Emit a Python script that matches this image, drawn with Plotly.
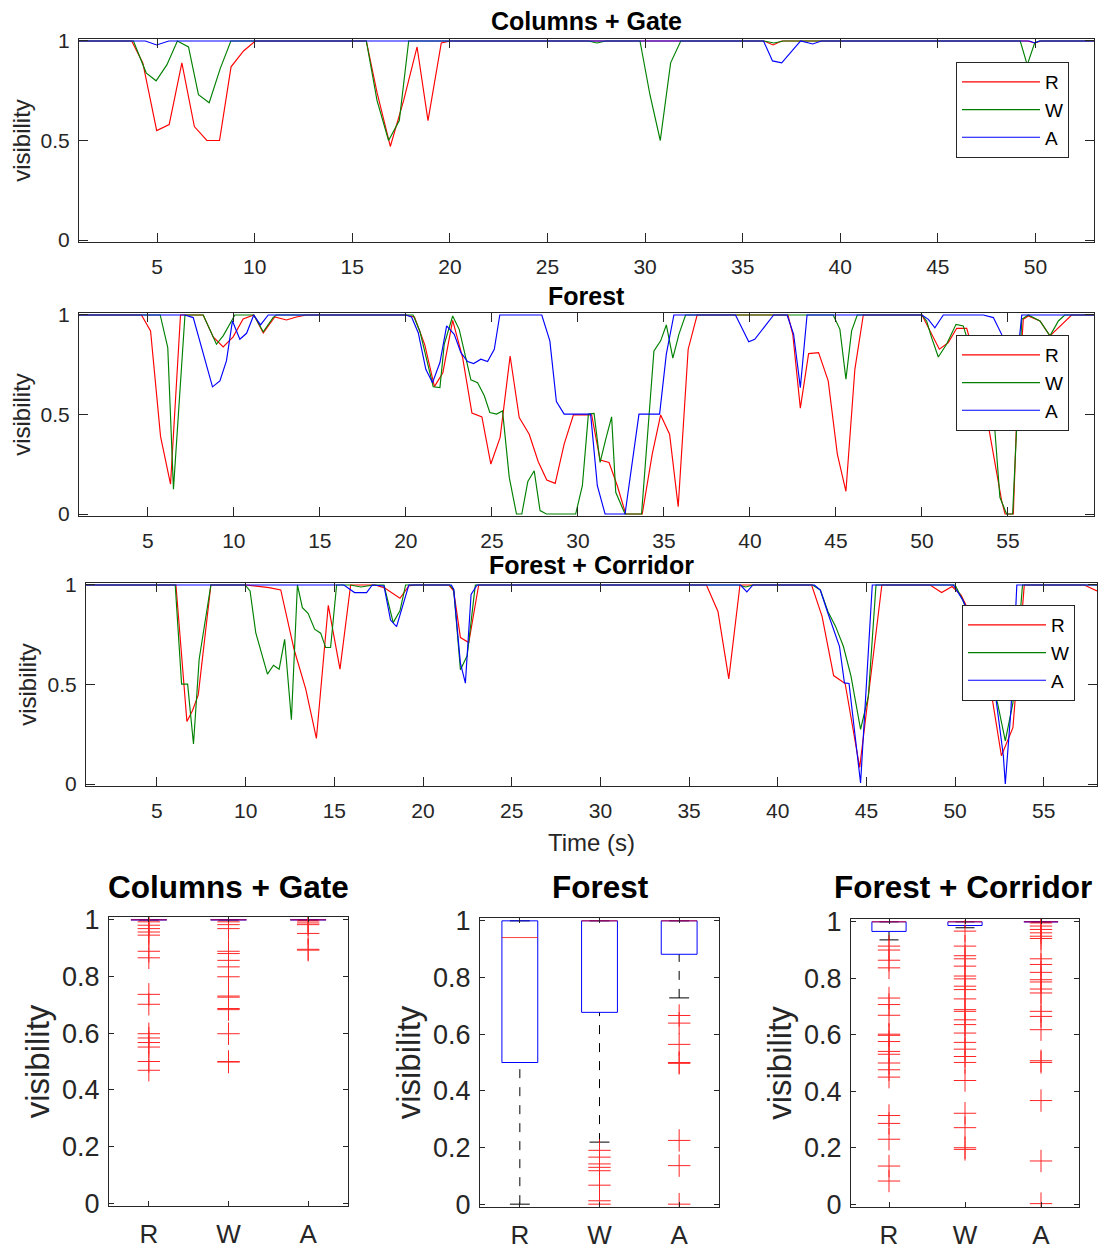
import plotly.graph_objects as go

# ---------------- time-series data (time in s, visibility) ----------------
# Columns + Gate
cg_R_t = [1.0, 3.70, 4.27, 4.98, 5.62, 6.27, 6.91, 7.55, 8.20, 8.79, 9.43, 10.03, 15.72, 16.27, 16.95, 17.63, 18.32, 18.88, 19.56, 20.02, 36.10, 36.56, 37.00, 49.60, 49.96, 50.30, 53.0]
cg_R_v = [1.0, 1.0, 0.89, 0.55, 0.58, 0.89, 0.57, 0.50, 0.50, 0.87, 0.95, 1.0, 1.0, 0.74, 0.47, 0.70, 0.97, 0.60, 0.99, 1.0, 1.0, 0.98, 1.0, 1.0, 0.99, 1.0, 1.0]
cg_W_t = [1.0, 3.79, 4.44, 4.95, 5.50, 6.04, 6.61, 7.12, 7.67, 8.23, 8.78, 15.72, 16.27, 16.86, 17.41, 17.89, 27.10, 27.53, 28.00, 29.74, 30.25, 30.78, 31.31, 31.83, 36.10, 36.60, 37.10, 49.22, 49.58, 49.96, 50.20, 53.0]
cg_W_v = [1.0, 1.0, 0.84, 0.80, 0.88, 1.0, 0.97, 0.73, 0.69, 0.86, 1.0, 1.0, 0.70, 0.50, 0.60, 1.0, 1.0, 0.99, 1.0, 1.0, 0.73, 0.50, 0.89, 1.0, 1.0, 0.99, 1.0, 1.0, 0.88, 0.99, 1.0, 1.0]
cg_A_t = [1.0, 4.40, 4.98, 5.60, 36.07, 36.53, 37.00, 37.97, 38.59, 39.03, 49.70, 49.96, 50.20, 53.0]
cg_A_v = [1.0, 1.0, 0.98, 1.0, 1.0, 0.90, 0.89, 1.0, 0.985, 1.0, 1.0, 0.99, 1.0, 1.0]

# Forest
f_R_t = [1.0, 4.63, 5.16, 5.74, 6.32, 6.90, 8.22, 8.80, 9.38, 9.96, 10.54, 11.16, 11.71, 12.38, 13.06, 13.64, 14.22, 20.00, 20.50, 21.10, 21.66, 22.15, 22.72, 23.30, 23.84, 24.42, 24.94, 25.48, 26.06, 26.59, 27.17, 27.69, 28.19, 28.68, 29.20, 29.74, 30.80, 31.29, 31.81, 32.29, 32.78, 33.74, 34.32, 34.81, 35.33, 35.83, 36.41, 36.93, 42.21, 42.49, 42.93, 43.41, 43.99, 44.55, 45.08, 45.58, 46.10, 46.59, 50.00, 50.46, 51.01, 51.53, 52.02, 52.60, 53.20, 53.86, 54.15, 54.63, 54.83, 55.31, 55.50, 55.89, 56.18, 56.86, 57.44, 58.02, 58.70, 60.0]
f_R_v = [1.0, 1.0, 0.92, 0.39, 0.15, 1.0, 1.0, 0.89, 0.84, 0.89, 0.98, 1.0, 0.91, 0.99, 0.975, 0.99, 1.0, 1.0, 0.99, 0.85, 0.64, 0.71, 0.973, 0.786, 0.507, 0.488, 0.251, 0.385, 0.794, 0.485, 0.401, 0.264, 0.171, 0.154, 0.351, 0.498, 0.498, 0.271, 0.259, 0.142, 0.0, 0.0, 0.301, 0.498, 0.401, 0.037, 0.828, 1.0, 1.0, 0.903, 0.532, 0.806, 0.811, 0.669, 0.301, 0.114, 0.727, 1.0, 1.0, 0.92, 0.828, 0.861, 0.933, 0.933, 0.75, 0.443, 0.301, 0.067, 0.0, 0.0, 0.468, 0.978, 0.995, 0.97, 0.895, 0.945, 1.0, 1.0]
f_W_t = [1.0, 5.72, 6.16, 6.49, 7.16, 8.22, 8.99, 9.38, 10.06, 11.16, 11.71, 12.28, 12.47, 20.42, 20.81, 21.59, 21.98, 22.23, 22.72, 23.10, 23.78, 24.17, 24.56, 24.88, 25.27, 25.62, 26.01, 26.43, 26.74, 27.09, 27.46, 27.80, 28.17, 29.87, 30.26, 30.61, 30.94, 31.29, 31.62, 31.96, 32.20, 32.74, 33.70, 34.09, 34.42, 34.81, 35.14, 35.52, 35.87, 36.26, 44.84, 45.23, 45.58, 45.91, 46.24, 50.00, 50.27, 50.56, 50.95, 51.43, 51.98, 52.40, 53.10, 53.86, 54.24, 54.53, 54.92, 55.27, 55.50, 55.80, 56.18, 56.86, 57.44, 57.93, 58.30, 60.0]
f_W_v = [1.0, 1.0, 0.836, 0.125, 1.0, 1.0, 0.853, 0.895, 1.0, 1.0, 0.916, 0.987, 1.0, 1.0, 0.92, 0.639, 0.635, 0.853, 0.995, 0.928, 0.674, 0.66, 0.594, 0.51, 0.502, 0.518, 0.184, 0.0, 0.0, 0.164, 0.217, 0.017, 0.0, 0.0, 0.142, 0.502, 0.505, 0.259, 0.376, 0.488, 0.109, 0.0, 0.0, 0.468, 0.819, 0.87, 0.95, 0.783, 0.903, 1.0, 1.0, 0.928, 0.677, 0.92, 1.0, 1.0, 0.97, 0.886, 0.789, 0.853, 0.953, 0.945, 0.75, 0.443, 0.418, 0.084, 0.0, 0.0, 0.443, 0.978, 1.0, 0.97, 0.895, 0.97, 1.0, 1.0]
f_A_t = [1.0, 7.15, 7.64, 8.76, 9.19, 9.57, 9.92, 10.35, 10.74, 11.16, 11.55, 12.00, 20.00, 20.33, 20.72, 21.16, 21.55, 21.98, 22.37, 22.81, 23.20, 23.59, 23.94, 24.36, 24.75, 25.14, 25.46, 27.90, 28.37, 28.75, 29.20, 30.74, 31.13, 31.58, 32.74, 33.55, 34.75, 35.14, 35.58, 39.16, 39.93, 40.28, 41.38, 42.16, 42.54, 42.93, 43.32, 50.00, 50.37, 50.75, 51.24, 53.57, 54.15, 54.63, 55.00, 55.40, 55.80, 60.0]
f_A_v = [1.0, 1.0, 0.987, 0.639, 0.669, 0.769, 0.97, 0.878, 0.908, 1.0, 0.95, 1.0, 1.0, 0.99, 0.911, 0.727, 0.66, 0.761, 0.945, 0.903, 0.811, 0.766, 0.756, 0.778, 0.766, 0.828, 1.0, 1.0, 0.87, 0.565, 0.502, 0.502, 0.142, 0.0, 0.0, 0.502, 0.502, 0.803, 1.0, 1.0, 0.865, 0.878, 1.0, 1.0, 0.903, 0.635, 1.0, 1.0, 0.978, 0.936, 1.0, 1.0, 0.987, 0.903, 0.64, 0.66, 1.0, 1.0]

# Forest + Corridor
fc_R_t = [1.0, 6.07, 6.69, 7.00, 7.33, 8.04, 10.00, 11.32, 11.98, 12.73, 13.39, 13.99, 14.66, 15.32, 15.92, 17.30, 17.80, 18.70, 19.20, 19.50, 21.45, 21.73, 22.11, 22.58, 23.14, 35.98, 36.63, 37.24, 37.87, 41.91, 42.50, 43.15, 43.80, 44.62, 45.87, 48.59, 49.24, 49.83, 50.33, 50.65, 51.30, 52.07, 52.61, 53.26, 53.90, 57.28, 58.0]
fc_R_v = [1.0, 1.0, 0.314, 0.368, 0.448, 1.0, 1.0, 0.987, 0.975, 0.677, 0.477, 0.229, 0.898, 0.577, 1.0, 1.0, 0.987, 0.933, 0.995, 1.0, 1.0, 0.97, 0.736, 0.711, 1.0, 1.0, 0.867, 0.528, 1.0, 1.0, 0.842, 0.545, 0.505, 0.083, 1.0, 1.0, 0.962, 0.992, 0.95, 0.892, 0.72, 0.442, 0.142, 0.283, 1.0, 1.0, 0.97]
fc_W_t = [1.0, 6.03, 6.39, 6.73, 7.06, 7.38, 8.04, 9.97, 10.25, 10.57, 11.23, 11.57, 11.89, 12.20, 12.58, 12.92, 13.20, 13.52, 13.89, 14.23, 14.51, 14.79, 15.13, 15.90, 16.50, 17.20, 17.80, 18.32, 18.70, 19.02, 21.50, 21.73, 22.11, 22.49, 22.95, 37.80, 38.20, 38.60, 41.96, 42.40, 42.83, 43.26, 43.70, 44.13, 44.67, 45.11, 45.54, 50.00, 50.43, 51.20, 51.80, 52.39, 52.83, 53.26, 53.80, 58.0]
fc_W_v = [1.0, 1.0, 0.502, 0.502, 0.201, 0.627, 1.0, 1.0, 0.97, 0.761, 0.552, 0.597, 0.577, 0.727, 0.323, 1.0, 0.886, 0.858, 0.778, 0.758, 0.686, 0.686, 1.0, 1.0, 0.99, 1.0, 1.0, 0.811, 0.87, 1.0, 1.0, 0.978, 0.574, 0.644, 1.0, 1.0, 0.99, 1.0, 1.0, 0.975, 0.867, 0.792, 0.692, 0.542, 0.275, 0.442, 1.0, 1.0, 0.925, 0.75, 0.55, 0.408, 0.217, 0.408, 1.0, 1.0]
fc_A_t = [1.0, 15.54, 16.14, 16.82, 17.14, 17.80, 18.17, 18.51, 19.20, 21.60, 21.73, 22.11, 22.39, 22.71, 23.05, 37.90, 38.26, 38.60, 42.07, 42.40, 42.83, 43.48, 43.76, 44.02, 44.67, 45.33, 49.90, 50.43, 51.20, 51.80, 52.20, 52.72, 52.83, 53.15, 53.48, 58.0]
fc_A_v = [1.0, 1.0, 0.962, 0.962, 1.0, 0.995, 0.824, 0.791, 1.0, 1.0, 0.978, 0.607, 0.507, 0.953, 1.0, 1.0, 0.965, 1.0, 1.0, 0.975, 0.858, 0.692, 0.508, 0.505, 0.005, 1.0, 1.0, 0.925, 0.78, 0.6, 0.5, 0.142, 0.0, 0.375, 1.0, 1.0]

# ---------------- box-plot statistics ----------------
cats = ["R", "W", "A"]
# Columns + Gate
cg_q1 = [1.0, 1.0, 1.0]; cg_med = [1.0, 1.0, 1.0]; cg_q3 = [1.0, 1.0, 1.0]
cg_lo = [1.0, 1.0, 1.0]; cg_hi = [1.0, 1.0, 1.0]
cg_out_R = [0.993, 0.981, 0.969, 0.957, 0.946, 0.889, 0.866, 0.737, 0.702, 0.598, 0.583, 0.567, 0.551, 0.5, 0.469]
cg_out_W = [0.993, 0.983, 0.969, 0.889, 0.881, 0.857, 0.834, 0.799, 0.731, 0.727, 0.687, 0.683, 0.598, 0.5, 0.498]
cg_out_A = [0.996, 0.989, 0.983, 0.952, 0.896, 0.893]
# Forest
f_q1 = [0.5, 0.677, 0.882]; f_med = [0.941, 1.0, 1.0]; f_q3 = [1.0, 1.0, 1.0]
f_lo = [0.0, 0.219, 0.728]; f_hi = [1.0, 1.0, 1.0]
f_out_R = []
f_out_W = [0.19, 0.166, 0.142, 0.13, 0.118, 0.067, 0.012, 0.0]
f_out_A = [0.666, 0.639, 0.564, 0.5, 0.497, 0.225, 0.136, 0.0]
# Forest + Corridor
fc_q1 = [0.966, 0.987, 1.0]; fc_med = [1.0, 1.0, 1.0]; fc_q3 = [1.0, 1.0, 1.0]
fc_lo = [0.936, 0.979, 1.0]; fc_hi = [1.0, 1.0, 1.0]
fc_out_R = [0.914, 0.9, 0.864, 0.837, 0.73, 0.707, 0.669, 0.602, 0.598, 0.576, 0.541, 0.531, 0.5, 0.476, 0.45, 0.314, 0.286, 0.23, 0.135, 0.082]
fc_out_W = [0.967, 0.914, 0.88, 0.869, 0.843, 0.808, 0.798, 0.772, 0.76, 0.727, 0.689, 0.683, 0.653, 0.636, 0.606, 0.573, 0.549, 0.523, 0.502, 0.438, 0.322, 0.271, 0.2, 0.194]
fc_out_A = [0.996, 0.985, 0.973, 0.961, 0.949, 0.941, 0.869, 0.849, 0.821, 0.795, 0.787, 0.762, 0.748, 0.683, 0.665, 0.618, 0.508, 0.502, 0.367, 0.153, 0.002]

# ---------------- styling ----------------
PAGE_W, PAGE_H = 1106, 1253
OFF = 8                      # default body margin of the html page
W, H = PAGE_W - OFF, PAGE_H - OFF
FONT = "Liberation Sans, Arial, Helvetica, sans-serif"
AX = "#262626"
COL = {"R": "#FF0000", "W": "#008000", "A": "#0000FF"}


def px(x):
    return (x - OFF) / W


def py(y):
    return 1 - (y - OFF) / H


def xd(a, b):
    return [px(a), px(b)]


def yd(top, bottom):
    return [py(bottom), py(top)]


fig = go.Figure()

series = [
    ([(cg_R_t, cg_R_v), (cg_W_t, cg_W_v), (cg_A_t, cg_A_v)], "x", "y", "legend"),
    ([(f_R_t, f_R_v), (f_W_t, f_W_v), (f_A_t, f_A_v)], "x2", "y2", "legend2"),
    ([(fc_R_t, fc_R_v), (fc_W_t, fc_W_v), (fc_A_t, fc_A_v)], "x3", "y3", "legend3"),
]
for data, xa, ya, lg in series:
    for name, (t, v) in zip(cats, data):
        fig.add_trace(go.Scatter(x=t, y=v, mode="lines", name=name,
                                 line=dict(color=COL[name], width=1.15),
                                 xaxis=xa, yaxis=ya, legend=lg, showlegend=True))

boxes = [
    ([cg_q1, cg_med, cg_q3, cg_lo, cg_hi], [cg_out_R, cg_out_W, cg_out_A], "x4", "y4"),
    ([f_q1, f_med, f_q3, f_lo, f_hi], [f_out_R, f_out_W, f_out_A], "x5", "y5"),
    ([fc_q1, fc_med, fc_q3, fc_lo, fc_hi], [fc_out_R, fc_out_W, fc_out_A], "x6", "y6"),
]
HALF = 0.225
CAP = 0.125
for (q1, med, q3, lo, hi), outs, xa, ya in boxes:
    for i in range(3):
        xc = i + 1
        # whiskers (dashed black) and caps
        fig.add_trace(go.Scatter(x=[xc, xc, None, xc, xc], y=[q3[i], hi[i], None, lo[i], q1[i]],
                                 mode="lines", line=dict(color="black", width=1, dash="dash"),
                                 xaxis=xa, yaxis=ya, showlegend=False, hoverinfo="skip"))
        fig.add_trace(go.Scatter(x=[xc - CAP, xc + CAP, None, xc - CAP, xc + CAP],
                                 y=[hi[i], hi[i], None, lo[i], lo[i]],
                                 mode="lines", line=dict(color="black", width=1),
                                 xaxis=xa, yaxis=ya, showlegend=False, hoverinfo="skip"))
        # box body (q1..q3)
        fig.add_trace(go.Scatter(x=[xc - HALF, xc + HALF, xc + HALF, xc - HALF, xc - HALF],
                                 y=[q1[i], q1[i], q3[i], q3[i], q1[i]], mode="lines",
                                 line=dict(color="#0000FF", width=1),
                                 xaxis=xa, yaxis=ya, showlegend=False, hoverinfo="skip"))
        # median
        fig.add_trace(go.Scatter(x=[xc - HALF, xc + HALF], y=[med[i], med[i]], mode="lines",
                                 line=dict(color="rgba(255,0,0,0.75)", width=1),
                                 xaxis=xa, yaxis=ya, showlegend=False, hoverinfo="skip"))
        # outliers
        if outs[i]:
            fig.add_trace(go.Scatter(x=[xc] * len(outs[i]), y=outs[i], mode="markers",
                                     marker=dict(symbol="cross-thin", size=16,
                                                 line=dict(color="#FF0000", width=1)),
                                     opacity=0.85,
                                     xaxis=xa, yaxis=ya, showlegend=False, hoverinfo="skip"))

axcommon = dict(showline=True, linecolor=AX, linewidth=1, mirror="ticks", ticks="inside",
                tickcolor=AX, showgrid=False, zeroline=False, automargin=False,
                tickfont=dict(family=FONT, size=21, color=AX))

ts_axes = [
    ("xaxis", "yaxis", "x", "y", [79, 1094], [39, 242], [1, 53], list(range(5, 55, 5)), False),
    ("xaxis2", "yaxis2", "x2", "y2", [79, 1094], [313, 516], [1, 60], list(range(5, 60, 5)), False),
    ("xaxis3", "yaxis3", "x3", "y3", [86, 1097], [583, 786], [1, 58], list(range(5, 60, 5)), True),
]
lay = {}
for xn, yn, xref, yref, xdom, ydom, xr, xt, last in ts_axes:
    xa = dict(axcommon, domain=xd(*xdom), range=xr, tickvals=xt, ticklen=9,
              anchor=yref, ticklabelstandoff=6)
    if last:
        xa["title"] = dict(text="Time (s)", font=dict(family=FONT, size=24, color=AX), standoff=12)
    ya = dict(axcommon, domain=yd(*ydom), range=[-0.01, 1.01], tickvals=[0, 0.5, 1],
              ticktext=["0", "0.5", "1"], ticklen=9, anchor=xref, ticklabelstandoff=4,
              title=dict(text="visibility", font=dict(family=FONT, size=24, color=AX), standoff=4))
    lay[xn] = xa
    lay[yn] = ya

bp_axes = [
    ("xaxis4", "yaxis4", "4", [109, 348], [917, 1206]),
    ("xaxis5", "yaxis5", "5", [480, 719], [918, 1207]),
    ("xaxis6", "yaxis6", "6", [851, 1079], [919, 1207]),
]
for xn, yn, n, xdom, ydom in bp_axes:
    lay[xn] = dict(axcommon, domain=xd(*xdom), range=[0.5, 3.5], tickvals=[1, 2, 3], ticktext=cats,
                   ticklen=5, anchor="y" + n, tickfont=dict(family=FONT, size=26, color=AX),
                   ticklabelstandoff=5)
    lay[yn] = dict(axcommon, domain=yd(*ydom), range=[-0.01, 1.01],
                   tickvals=[0, 0.2, 0.4, 0.6, 0.8, 1], ticktext=["0", "0.2", "0.4", "0.6", "0.8", "1"],
                   ticklen=5, anchor="x" + n, tickfont=dict(family=FONT, size=27, color=AX),
                   ticklabelstandoff=3,
                   title=dict(text="visibility", font=dict(family=FONT, size=33, color=AX), standoff=2))

titles = [
    ("Columns + Gate", 586, 21, 25), ("Forest", 586, 296, 25), ("Forest + Corridor", 591, 565, 25),
    ("Columns + Gate", 228, 887, 31.5), ("Forest", 600, 887, 31.5), ("Forest + Corridor", 963, 887, 31.5),
]
annotations = [dict(text="<b>%s</b>" % t, x=px(x), y=py(y), xref="paper", yref="paper",
                    showarrow=False, xanchor="center", yanchor="middle",
                    font=dict(family=FONT, size=s, color="black")) for t, x, y, s in titles]

legend_style = dict(bgcolor="white", bordercolor=AX, borderwidth=1, xanchor="right", yanchor="top",
                    font=dict(family=FONT, size=19, color="black"), itemwidth=78)
fig.update_layout(
    width=W, height=H, autosize=False,
    margin=dict(l=0, r=0, t=0, b=0, autoexpand=False),
    paper_bgcolor="white", plot_bgcolor="white",
    annotations=annotations,
    legend=dict(legend_style, x=px(1069), y=py(62)),
    legend2=dict(legend_style, x=px(1069), y=py(335)),
    legend3=dict(legend_style, x=px(1075), y=py(605)),
    **lay,
)

fig.write_html("out.html")
